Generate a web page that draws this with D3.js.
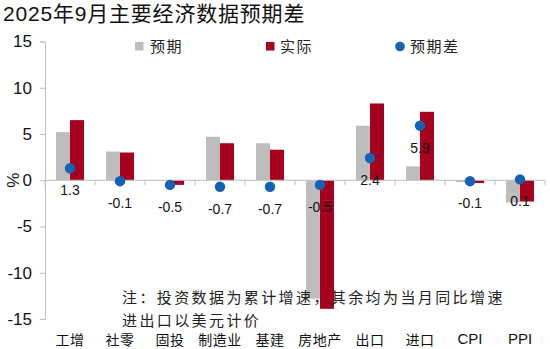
<!DOCTYPE html>
<html><head><meta charset="utf-8">
<script src="https://cdn.jsdelivr.net/npm/d3@7"></script>
<style>body{margin:0;background:#fff}</style>
</head><body><svg id="c" width="550" height="349"></svg>
<script>
const categories = ["工增","社零","固投","制造业","基建","房地产","出口","进口","CPI","PPI"];
const expected = [5.2, 3.1, 0.0, 4.7, 4.0, -12.8, 5.9, 1.5, -0.2, -2.4];
const actual   = [6.5, 3.0, -0.5, 4.0, 3.3, -13.9, 8.3, 7.4, -0.3, -2.3];
const diffVals = [1.3, -0.1, -0.5, -0.7, -0.7, -0.5, 2.4, 5.9, -0.1, 0.1];
const yTicks = [-15, -10, -5, 0, 5, 10, 15];
const seriesNames = ["预期","实际","预期差"];
const title = "2025年9月主要经济数据预期差";
const noteLines = ["注：投资数据为累计增速，其余均为当月同比增速","进出口以美元计价"];

const colors = {exp:"#BDBDBD", act:"#A5001E", dot:"#1462B4", axis:"#BFBFBF"};
const FONT = "'Liberation Sans', Arial, 'Noto Sans CJK SC', sans-serif";
const CJK = "'Noto Sans CJK SC', sans-serif";
const hy = s => s.replace("\u2212", "-");

const svg = d3.select("#c");
const L = 45, R = 545, T = 41.5, B = 319;
const x0 = d3.scaleBand().domain(categories).range([L, R]).paddingInner(0.44).paddingOuter(0.22);
const x1 = d3.scaleBand().domain(["exp","act"]).range([0, x0.bandwidth()]);
const y = d3.scaleLinear().domain([-15, 15]).range([B, T]);

// title
svg.append("text").attr("x", 3).attr("y", 21).attr("font-family", FONT)
  .attr("font-size", 21).attr("letter-spacing", 0.8).attr("fill", "#111").text(title);

// y axis
const yAxis = d3.axisLeft(y).tickValues(yTicks).tickSize(5).tickPadding(8).tickFormat(d => hy(d3.format("d")(d)));
const ga = svg.append("g").attr("transform", `translate(${L},0)`).call(yAxis);
ga.select(".domain").attr("stroke", colors.axis);
ga.selectAll(".tick line").attr("stroke", colors.axis);
ga.selectAll(".tick text").attr("font-family", FONT).attr("font-size", 17).attr("fill", "#111");

// y label
svg.append("text").attr("transform", `translate(19,${y(0)}) rotate(-90)`).attr("text-anchor", "middle")
  .attr("font-family", FONT).attr("font-size", 17).attr("fill", "#111").text("%");

// bars
const g = svg.append("g");
categories.forEach((c, i) => {
  [["exp", expected[i]], ["act", actual[i]]].forEach(([k, v]) => {
    g.append("rect").attr("x", x0(c) + x1(k)).attr("width", x1.bandwidth())
      .attr("y", y(Math.max(0, v))).attr("height", Math.abs(y(v) - y(0)))
      .attr("fill", colors[k]);
  });
});

// zero line with category ticks
const z = svg.append("g");
z.append("line").attr("x1", L).attr("x2", R).attr("y1", y(0)).attr("y2", y(0)).attr("stroke", colors.axis);
d3.range(categories.length + 1).forEach(i => {
  const xx = L + i * x0.step();
  z.append("line").attr("x1", xx).attr("x2", xx).attr("y1", y(0)).attr("y2", y(0) + 5).attr("stroke", colors.axis);
});

// note
noteLines.forEach((t, i) => {
  svg.append("text").attr("x", 122).attr("y", 303 + i * 23).attr("font-family", CJK)
    .attr("font-size", 15).attr("letter-spacing", 2.4).attr("fill", "#222").text(t);
});

// dots + labels
categories.forEach((c, i) => {
  const cx = x0(c) + x0.bandwidth() / 2;
  svg.append("circle").attr("cx", cx).attr("cy", y(diffVals[i])).attr("r", 5.2).attr("fill", colors.dot);
  svg.append("text").attr("x", cx).attr("y", y(diffVals[i]) + 27).attr("text-anchor", "middle")
    .attr("font-family", FONT).attr("font-size", 14).attr("fill", "#111").text(hy(d3.format(".1f")(diffVals[i])));
});

// category labels
categories.forEach(c => {
  const ascii = /^[A-Z]+$/.test(c);
  svg.append("text").attr("x", x0(c) + x0.bandwidth() / 2).attr("y", ascii ? 344 : 345)
    .attr("text-anchor", "middle").attr("font-family", ascii ? FONT : CJK)
    .attr("font-size", ascii ? 15 : 14).attr("letter-spacing", ascii ? 0 : 0.5).attr("fill", "#111").text(c);
});

// legend
const lg = svg.append("g").attr("font-family", CJK).attr("font-size", 15).attr("fill", "#222");
lg.append("rect").attr("x", 135).attr("y", 42).attr("width", 8.5).attr("height", 8.5).attr("fill", colors.exp);
lg.append("text").attr("x", 150).attr("y", 51.5).attr("letter-spacing", 1.5).text(seriesNames[0]);
lg.append("rect").attr("x", 266).attr("y", 42).attr("width", 8.5).attr("height", 8.5).attr("fill", colors.act);
lg.append("text").attr("x", 280).attr("y", 51.5).attr("letter-spacing", 1.5).text(seriesNames[1]);
lg.append("circle").attr("cx", 400).attr("cy", 46.5).attr("r", 4.8).attr("fill", colors.dot);
lg.append("text").attr("x", 410).attr("y", 51.5).attr("letter-spacing", 1.5).text(seriesNames[2]);
</script></body></html>
